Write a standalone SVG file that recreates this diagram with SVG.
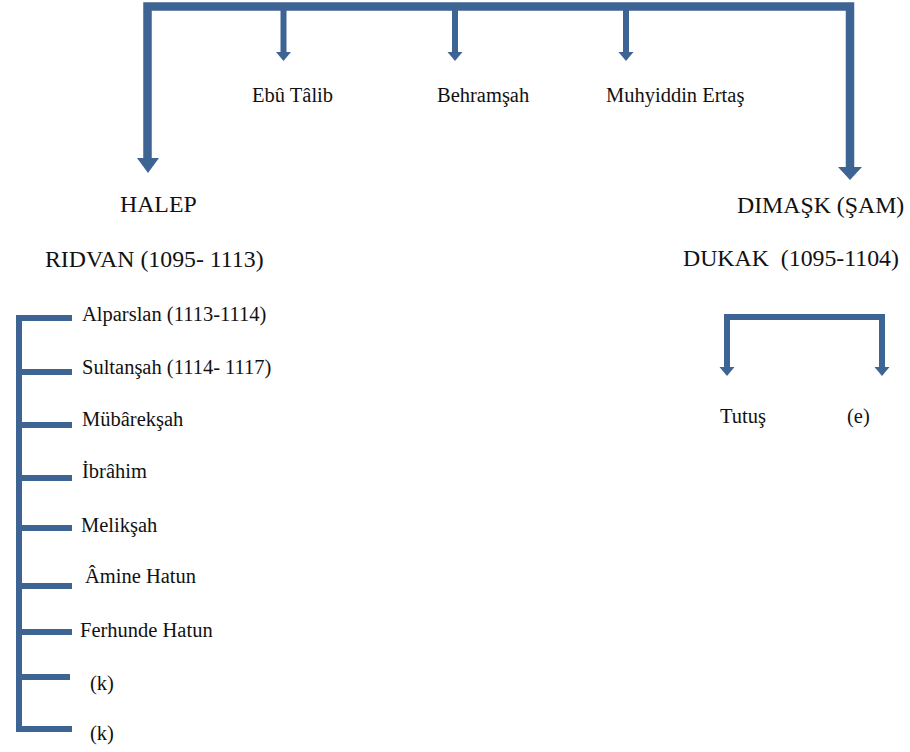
<svg xmlns="http://www.w3.org/2000/svg" width="910" height="752" viewBox="0 0 910 752">
<style>
.ln{fill:none;stroke:#3e6494;stroke-linejoin:miter;stroke-linecap:butt}
.hd{fill:#3e6494}
.s{font-size:20.5px}
.b{font-size:23.8px}
</style>
<rect width="910" height="752" fill="#fff"/>
<g id="connectors">
<path class="ln" d="M147.5,159 V6.5 H850 V168" stroke-width="8.5"/>
<polygon class="hd" points="137,158 159,158 148,173"/>
<polygon class="hd" points="838,167 862,167 850,180"/>
<path class="ln" d="M283.5,6 V53 M455,6 V53 M626,6 V53" stroke-width="6"/>
<polygon class="hd" points="276,52 291,52 283.5,61"/>
<polygon class="hd" points="447.5,52 462.5,52 455,61"/>
<polygon class="hd" points="618.5,52 633.5,52 626,61"/>
<path class="ln" d="M72,318 H19 V729 H72 M19,372 H72 M19,425 H72 M19,478 H72 M19,528 H72 M19,586 H72 M19,632 H72 M19,677 H70" stroke-width="6"/>
<path class="ln" d="M727,368 V317 H882 V368" stroke-width="6"/>
<polygon class="hd" points="719.5,367 734.5,367 727,376"/>
<polygon class="hd" points="874.5,367 889.5,367 882,376"/>
</g>
<g font-family="Liberation Serif, DejaVu Serif, serif" fill="#111">
<g id="ebu-talib"><text class="s" x="252" y="102">Ebû Tâlib</text></g>
<g id="behramsah"><text class="s" x="437" y="102">Behramşah</text></g>
<g id="muhyiddin"><text class="s" x="606" y="102">Muhyiddin Ertaş</text></g>
<g id="halep"><text class="b" x="120" y="212">HALEP</text></g>
<g id="ridvan"><text class="b" x="45" y="267">RIDVAN (1095- 1113)</text></g>
<g id="dimask"><text class="b" x="737" y="213">DIMAŞK (ŞAM)</text></g>
<g id="dukak"><text class="b" x="683" y="266" xml:space="preserve">DUKAK  (1095-1104)</text></g>
<g id="alparslan"><text class="s" x="82" y="321">Alparslan (1113-1114)</text></g>
<g id="sultansah"><text class="s" x="82" y="374">Sultanşah (1114- 1117)</text></g>
<g id="mubareksah"><text class="s" x="82" y="426">Mübârekşah</text></g>
<g id="ibrahim"><text class="s" x="82" y="478">İbrâhim</text></g>
<g id="meliksah"><text class="s" x="81" y="532">Melikşah</text></g>
<g id="amine"><text class="s" x="85" y="583">Âmine Hatun</text></g>
<g id="ferhunde"><text class="s" x="80" y="637">Ferhunde Hatun</text></g>
<g id="k1"><text class="s" x="90" y="690">(k)</text></g>
<g id="k2"><text class="s" x="90" y="740">(k)</text></g>
<g id="tutus"><text class="s" x="720" y="423">Tutuş</text></g>
<g id="e"><text class="s" x="847" y="423">(e)</text></g>
</g>
</svg>
